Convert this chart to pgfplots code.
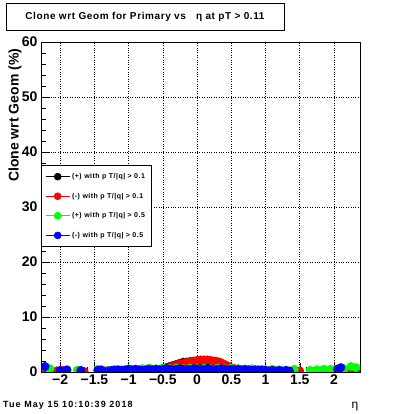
\documentclass[border=0pt]{standalone}
\usepackage{pgfplots}
\pgfplotsset{compat=1.18}
\usepackage{fontspec}
\setmainfont{Liberation Sans}
\begin{document}
\begin{tikzpicture}[x=1pt,y=1pt,font=\bfseries]
\useasboundingbox (0,0) rectangle (400,414);
\begin{axis}[
  at={(41pt,42pt)}, anchor=south west,
  scale only axis, width=319pt, height=330pt,
  xmin=-2.28, xmax=2.38, ymin=0, ymax=60,
  axis line style={black, line width=0.6pt},
  xtick={-2,-1.5,-1,-0.5,0,0.5,1,1.5,2},
  xticklabels={−2,−1.5,−1,−0.5,0,0.5,1,1.5,2},
  ytick={0,10,20,30,40,50,60},
  yticklabels={0,10,20,30,40,50,60},
  minor x tick num=4, minor y tick num=4,
  tick align=inside, xtick pos=bottom, ytick pos=left,
  major tick length=9pt, minor tick length=5pt,
  tick style={black, line width=0.5pt},
  grid=major, major grid style={black, dotted, line width=0.6pt},
  ticklabel style={font=\bfseries\fontsize{14}{14}\selectfont},
  xticklabel style={yshift=1pt},
  ylabel={Clone wrt Geom (\%)},
  ylabel style={font=\bfseries\fontsize{14}{14}\selectfont, at={(axis description cs:-0.05,0.99)}, anchor=south east},
  legend style={at={(0,0.627)}, anchor=north west, draw=black, line width=0.6pt, fill=white,
    font=\bfseries\fontsize{7}{7}\selectfont\addfontfeature{LetterSpace=7}, row sep=9pt, inner xsep=4pt, inner ysep=6pt,
    legend cell align=left},
  legend image code/.code={\draw[#1, line width=0.8pt] (0pt,0pt) -- (24pt,0pt); \draw[#1, mark repeat=2, mark phase=2, mark size=3.5pt] plot coordinates {(0pt,0pt) (12pt,0pt) (24pt,0pt)};},
  clip marker paths=true,
]
\addplot[only marks, mark=*, mark size=4.2pt, black, mark options={fill=black}] coordinates {
(-1.3,0.2) (-1.0,0.3) (-0.7,0.3) (-0.55,0.4) (-0.5,0.6) (-0.45,0.8) (-0.4,1.0) (-0.35,1.2) (-0.3,1.4) (-0.25,1.6) (-0.2,1.8) (-0.15,1.8) (-0.1,1.9) (-0.05,1.9) (0,0.9) (0.05,1.9) (0.1,1.8) (0.15,1.8) (0.2,1.7) (0.25,1.6) (0.3,1.5) (0.35,1.3) (0.4,1.1) (0.45,0.9) (0.5,0.6) (0.7,0.3) (1.0,0.3) (1.3,0.2)
};
\addplot[only marks, mark=*, mark size=4.2pt, red, mark options={fill=red}] coordinates {
(-2.3,0.3) (-2.2,0.2) (-2.05,0.2) (-1.95,0.3) (-1.65,0.1) (-1.35,0.2) (-1.3,0.2) (-1.25,0.2) (-1.2,0.3) (-1.15,0.2) (-1.1,0.3) (-1.05,0.2) (-1.0,0.3) (-0.95,0.2) (-0.9,0.3) (-0.85,0.2) (-0.8,0.3) (-0.75,0.3) (-0.7,0.3) (-0.65,0.3) (-0.6,0.3) (-0.55,0.4) (-0.5,0.5) (-0.45,0.7) (-0.4,0.9) (-0.35,1.1) (-0.3,1.3) (-0.25,1.5) (-0.2,1.6) (-0.15,1.8) (-0.1,1.9) (-0.05,2.0) (0,2.1) (0.05,2.2) (0.1,2.2) (0.15,2.2) (0.2,2.1) (0.25,2.0) (0.3,1.9) (0.35,1.7) (0.4,1.4) (0.45,1.1) (0.5,0.8) (0.55,0.6) (0.6,0.4) (0.65,0.3) (0.7,0.3) (0.75,0.3) (0.8,0.2) (0.85,0.3) (0.9,0.2) (0.95,0.3) (1.0,0.2) (1.05,0.2) (1.1,0.3) (1.15,0.2) (1.2,0.2) (1.25,0.1) (1.3,0.2) (1.5,0.2) (1.8,0.1) (2.0,0.2) (2.15,0.3) (2.25,0.3) (2.32,0.2)
};
\addplot[only marks, mark=*, mark size=4.2pt, green, mark options={fill=green}] coordinates {
(-2.3,0.8) (-2.15,0.6) (-1.75,0.3) (-1.45,0.5) (-1.3,0.3) (-1.2,0.5) (-1.1,0.4) (-1.0,0.6) (-0.9,0.5) (-0.8,0.6) (-0.7,0.7) (-0.6,0.6) (-0.5,0.7) (-0.4,0.6) (-0.3,0.7) (-0.2,0.6) (-0.1,0.7) (0,0.6) (0.1,0.7) (0.2,0.6) (0.3,0.7) (0.4,0.6) (0.5,0.7) (0.6,0.6) (0.7,0.5) (0.8,0.6) (0.9,0.5) (1.0,0.4) (1.1,0.5) (1.2,0.4) (1.3,0.3) (1.42,0.5) (1.65,0.3) (1.75,0.4) (1.85,0.5) (1.95,0.5) (2.05,0.6) (2.15,0.6) (2.25,1.0) (2.32,0.8)
};
\addplot[only marks, mark=*, mark size=4.2pt, blue, mark options={fill=blue}] coordinates {
(-2.22,1.0) (-2.0,0.3) (-1.9,0.4) (-1.7,0.3) (-1.45,0.3) (-1.4,0.4) (-1.3,0.2) (-1.25,0.3) (-1.2,0.3) (-1.15,0.4) (-1.1,0.3) (-1.05,0.4) (-1.0,0.5) (-0.95,0.4) (-0.9,0.5) (-0.85,0.4) (-0.8,0.3) (-0.75,0.4) (-0.7,0.5) (-0.65,0.4) (-0.6,0.5) (-0.55,0.4) (-0.5,0.5) (-0.45,0.6) (-0.4,0.5) (-0.35,0.4) (-0.3,0.5) (-0.25,0.6) (-0.2,0.5) (-0.15,0.4) (-0.1,0.5) (-0.05,0.6) (0,0.5) (0.05,0.4) (0.1,0.5) (0.15,0.6) (0.2,0.5) (0.25,0.4) (0.3,0.5) (0.35,0.6) (0.4,0.5) (0.45,0.4) (0.5,0.5) (0.55,0.4) (0.6,0.5) (0.65,0.4) (0.7,0.5) (0.75,0.4) (0.8,0.3) (0.85,0.4) (0.9,0.3) (0.95,0.4) (1.0,0.3) (1.05,0.2) (1.1,0.3) (1.15,0.2) (1.2,0.3) (1.25,0.2) (1.3,0.3) (1.35,0.2) (2.05,0.5) (2.1,0.8)
};
\legend{(+) with p T/|q| > 0.1, (-) with p T/|q| > 0.1, (+) with p T/|q| > 0.5, (-) with p T/|q| > 0.5}
\end{axis}
\node[draw=black, line width=0.7pt, minimum width=278pt, minimum height=27pt, inner sep=0pt, font=\bfseries\fontsize{10}{10}\selectfont\addfontfeature{LetterSpace=6}] at (145,397.5) {Clone wrt Geom for Primary vs \ \ η at pT > 0.11};
\node[anchor=west, inner sep=0pt, font=\bfseries\fontsize{9}{9}\selectfont\addfontfeature{LetterSpace=12}] at (3,9) {Tue May 15 10:10:39 2018};
\node[inner sep=0pt, font=\fontsize{12}{12}\selectfont] at (355,7) {η};
\end{tikzpicture}
\end{document}
